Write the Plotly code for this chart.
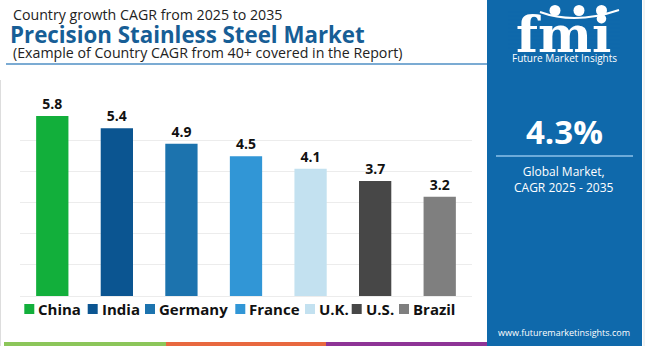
import plotly.graph_objects as go

# Country CAGR 2025-2035, precision stainless steel market
countries = ["China", "India", "Germany", "France", "U.K.", "U.S.", "Brazil"]
cagr = [5.8, 5.4, 4.9, 4.5, 4.1, 3.7, 3.2]
colors = ["#12af3b", "#0b5591", "#1c73ae", "#3196d6", "#c3e1f0", "#474747", "#7f7f7f"]

global_cagr = "4.3%"
title_top = "Country growth CAGR from 2025 to 2035"
title_main = "Precision Stainless Steel Market"
title_sub = "(Example of Country CAGR from 40+ covered in the Report)"
panel_lines = ["Global Market,", "CAGR 2025 - 2035"]
site = "www.futuremarketinsights.com"

W, H = 650, 346
PANEL = "#0f69ab"
FONT = "Open Sans"


def px(x):
    return x / W


def py(y):
    return 1 - y / H


def note(x, y, text, size, color="white", family=FONT, xanchor="center", yanchor="middle", **kw):
    return dict(x=px(x), y=py(y), xref="paper", yref="paper", text=text, showarrow=False, borderpad=0,
                xanchor=xanchor, yanchor=yanchor, font=dict(family=family, size=size, color=color), **kw)


fig = go.Figure()
fig.add_trace(go.Bar(
    x=countries, y=cagr,
    marker=dict(color=colors, line=dict(width=0)),
    text=[f"{v:.1f}" for v in cagr],
    textposition="outside",
    textfont=dict(family=FONT, size=14, color="#111111", weight="bold"),
    cliponaxis=False,
    showlegend=False,
    hoverinfo="x+y",
))

shapes = []
annotations = []

# header
annotations += [
    note(12, 15, title_top, 14.2, "#222222", xanchor="left"),
    note(9, 34, f"<b>{title_main}</b>", 22.3, "#175e96", xanchor="left"),
    note(12, 53, title_sub, 14.2, "#222222", xanchor="left"),
]
shapes.append(dict(type="line", xref="paper", yref="paper", x0=px(6), x1=px(487), y0=py(64), y1=py(64),
                   line=dict(color="#4f8fc4", width=1.5)))

# thin frame on the left of the chart area
shapes.append(dict(type="line", xref="paper", yref="paper", x0=px(0.5), x1=px(0.5), y0=py(80), y1=py(346),
                   line=dict(color="#dddddd", width=1)))

# custom legend
leg_sq = [24.3, 87.7, 145, 235.3, 305, 351.7, 399]
leg_y = 309
for name, col, x0 in zip(countries, colors, leg_sq):
    shapes.append(dict(type="rect", xref="paper", yref="paper", x0=px(x0), x1=px(x0 + 10),
                       y0=py(leg_y + 5), y1=py(leg_y - 5), fillcolor=col, line=dict(width=0)))
    annotations.append(note(x0 + 13, leg_y, f"<b>{name}</b>", 15, "#111111", xanchor="left"))

# bottom color stripes
for c, a, b in [("#8cc65a", 4, 166), ("#e8683f", 166, 326), ("#8e3496", 326, 487)]:
    shapes.append(dict(type="rect", xref="paper", yref="paper", x0=px(a), x1=px(b), y0=py(346), y1=py(342),
                       fillcolor=c, line=dict(width=0)))

# right-hand panel
shapes.append(dict(type="rect", xref="paper", yref="paper", x0=px(487), x1=px(642), y0=0, y1=1,
                   fillcolor=PANEL, line=dict(width=0), layer="below"))
shapes.append(dict(type="line", xref="paper", yref="paper", x0=px(644), x1=px(644), y0=0, y1=1,
                   line=dict(color="#e4e4e4", width=1)))

# logo
annotations.append(note(563, 51, "<b>fmi</b>", 51, family="DejaVu Serif", yanchor="bottom", yshift=-14))
for yy in range(12, 50, 4):
    shapes.append(dict(type="line", xref="paper", yref="paper", x0=px(508), x1=px(620), y0=py(yy), y1=py(yy),
                       line=dict(color=PANEL, width=1.2)))
for cx in [555, 579, 601.5]:
    shapes.append(dict(type="circle", xref="paper", yref="paper", x0=px(cx - 5.5), x1=px(cx + 5.5),
                       y0=py(16), y1=py(5), fillcolor="white", line=dict(width=0)))
shapes.append(dict(type="path", xref="paper", yref="paper",
                   path=f"M {px(540)} {py(12)} Q {px(575)} {py(25)} {px(619)} {py(10)}",
                   line=dict(color="white", width=2)))
annotations.append(note(564, 57.5, "Future Market Insights", 10))

annotations.append(note(564, 132, f"<b>{global_cagr}</b>", 33))
shapes.append(dict(type="line", xref="paper", yref="paper", x0=px(496), x1=px(633), y0=py(156), y1=py(156),
                   line=dict(color="#8cc2ea", width=1.5)))
annotations.append(note(564, 179, "<br>".join(panel_lines), 12))
annotations.append(note(564, 332, site, 9))

fig.update_layout(
    width=W, height=H,
    margin=dict(l=0, r=0, t=0, b=0),
    paper_bgcolor="white", plot_bgcolor="white",
    bargap=0.5,
    xaxis=dict(domain=[px(20), px(472)], showticklabels=False, ticks="", showgrid=False, zeroline=False,
               showline=False, fixedrange=True),
    yaxis=dict(domain=[py(296), py(109.7)], range=[0, 6], dtick=1, showticklabels=False, ticks="",
               showgrid=True, gridcolor="#ececec", gridwidth=1, zeroline=True, zerolinecolor="#ececec",
               zerolinewidth=1, fixedrange=True),
    shapes=shapes,
    annotations=annotations,
    showlegend=False,
)

fig.write_html("out.html")
